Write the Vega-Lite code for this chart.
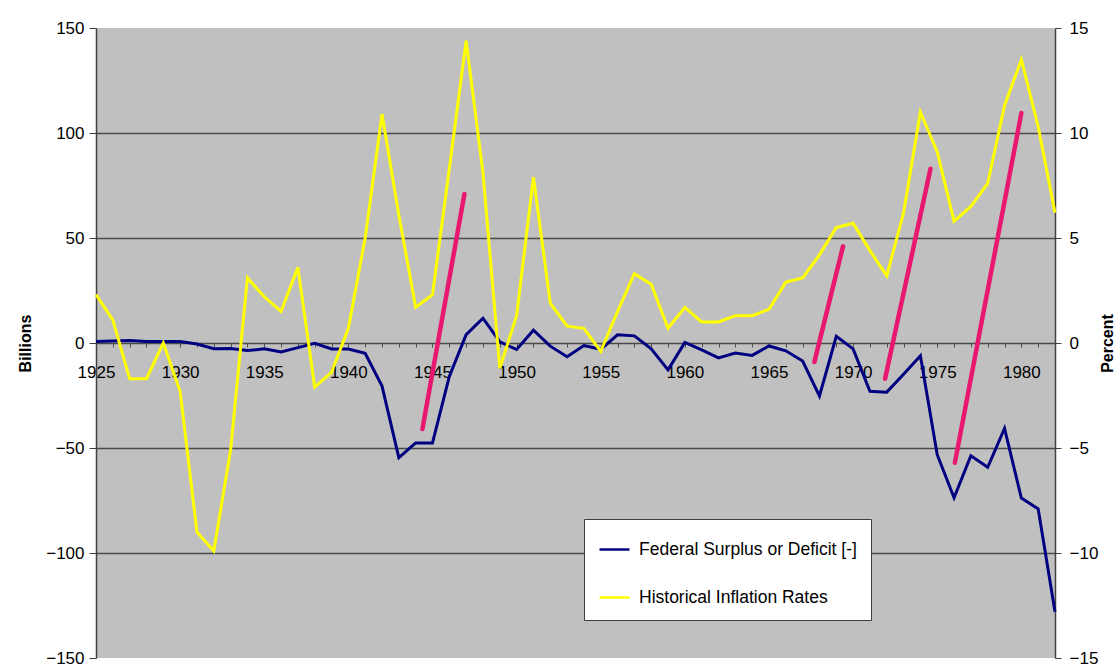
{
  "$schema": "https://vega.github.io/schema/vega-lite/v6.json",
  "width": 959,
  "height": 630,
  "autosize": {"type": "none"},
  "padding": {"left": 96, "top": 28, "right": 65, "bottom": 10},
  "background": "white",
  "config": {
    "view": {"fill": "#C0C0C0", "stroke": null},
    "font": "Liberation Sans",
    "axis": {"labelFont": "Liberation Sans", "labelFontSize": 17, "labelColor": "black", "titleFont": "Liberation Sans", "titleColor": "black"}
  },
  "datasets": {
    "series": [
      {"year": 1925, "deficit": 0.7, "inflation": 2.3},
      {"year": 1926, "deficit": 0.9, "inflation": 1.1},
      {"year": 1927, "deficit": 1.2, "inflation": -1.7},
      {"year": 1928, "deficit": 0.7, "inflation": -1.7},
      {"year": 1929, "deficit": 0.7, "inflation": 0.0},
      {"year": 1930, "deficit": 0.7, "inflation": -2.3},
      {"year": 1931, "deficit": -0.5, "inflation": -9.0},
      {"year": 1932, "deficit": -2.7, "inflation": -9.9},
      {"year": 1933, "deficit": -2.6, "inflation": -5.1},
      {"year": 1934, "deficit": -3.6, "inflation": 3.1},
      {"year": 1935, "deficit": -2.8, "inflation": 2.2},
      {"year": 1936, "deficit": -4.3, "inflation": 1.5},
      {"year": 1937, "deficit": -2.2, "inflation": 3.6},
      {"year": 1938, "deficit": -0.1, "inflation": -2.1},
      {"year": 1939, "deficit": -2.8, "inflation": -1.4},
      {"year": 1940, "deficit": -2.9, "inflation": 0.7},
      {"year": 1941, "deficit": -4.9, "inflation": 5.0},
      {"year": 1942, "deficit": -20.5, "inflation": 10.9},
      {"year": 1943, "deficit": -54.6, "inflation": 6.1},
      {"year": 1944, "deficit": -47.6, "inflation": 1.7},
      {"year": 1945, "deficit": -47.6, "inflation": 2.3},
      {"year": 1946, "deficit": -15.9, "inflation": 8.3},
      {"year": 1947, "deficit": 4.0, "inflation": 14.4},
      {"year": 1948, "deficit": 11.8, "inflation": 8.1},
      {"year": 1949, "deficit": 0.6, "inflation": -1.2},
      {"year": 1950, "deficit": -3.1, "inflation": 1.3},
      {"year": 1951, "deficit": 6.1, "inflation": 7.9},
      {"year": 1952, "deficit": -1.5, "inflation": 1.9},
      {"year": 1953, "deficit": -6.5, "inflation": 0.8},
      {"year": 1954, "deficit": -1.2, "inflation": 0.7},
      {"year": 1955, "deficit": -3.0, "inflation": -0.4},
      {"year": 1956, "deficit": 3.9, "inflation": 1.5},
      {"year": 1957, "deficit": 3.4, "inflation": 3.3},
      {"year": 1958, "deficit": -2.8, "inflation": 2.8},
      {"year": 1959, "deficit": -12.8, "inflation": 0.7},
      {"year": 1960, "deficit": 0.3, "inflation": 1.7},
      {"year": 1961, "deficit": -3.3, "inflation": 1.0},
      {"year": 1962, "deficit": -7.1, "inflation": 1.0},
      {"year": 1963, "deficit": -4.8, "inflation": 1.3},
      {"year": 1964, "deficit": -5.9, "inflation": 1.3},
      {"year": 1965, "deficit": -1.4, "inflation": 1.6},
      {"year": 1966, "deficit": -3.7, "inflation": 2.9},
      {"year": 1967, "deficit": -8.6, "inflation": 3.1},
      {"year": 1968, "deficit": -25.2, "inflation": 4.2},
      {"year": 1969, "deficit": 3.2, "inflation": 5.5},
      {"year": 1970, "deficit": -2.8, "inflation": 5.7},
      {"year": 1971, "deficit": -23.0, "inflation": 4.4},
      {"year": 1972, "deficit": -23.4, "inflation": 3.2},
      {"year": 1973, "deficit": -14.9, "inflation": 6.2},
      {"year": 1974, "deficit": -6.1, "inflation": 11.0},
      {"year": 1975, "deficit": -53.2, "inflation": 9.1},
      {"year": 1976, "deficit": -73.7, "inflation": 5.8},
      {"year": 1977, "deficit": -53.7, "inflation": 6.5},
      {"year": 1978, "deficit": -59.2, "inflation": 7.6},
      {"year": 1979, "deficit": -40.7, "inflation": 11.3},
      {"year": 1980, "deficit": -73.8, "inflation": 13.5},
      {"year": 1981, "deficit": -79.0, "inflation": 10.3},
      {"year": 1982, "deficit": -128.0, "inflation": 6.2}
    ],
    "annotations": [
      {"seg": "a", "year": 1944.4, "billions": -41},
      {"seg": "a", "year": 1946.9, "billions": 71},
      {"seg": "b", "year": 1967.7, "billions": -9},
      {"seg": "b", "year": 1969.4, "billions": 46},
      {"seg": "c", "year": 1971.9, "billions": -17},
      {"seg": "c", "year": 1974.6, "billions": 83},
      {"seg": "d", "year": 1976.05, "billions": -57},
      {"seg": "d", "year": 1980.0, "billions": 109.5}
    ]
  },
  "layer": [
    {
      "data": {"name": "series"},
      "mark": {"type": "line", "strokeWidth": 3},
      "encoding": {
        "x": {
          "field": "year", "type": "quantitative",
          "scale": {"domain": [1925, 1982], "nice": false, "zero": false},
          "axis": {
            "orient": "bottom", "offset": -315, "title": null, "format": "d",
            "values": [1925, 1930, 1935, 1940, 1945, 1950, 1955, 1960, 1965, 1970, 1975, 1980],
            "labelFlush": false, "labelOverlap": false, "labelBound": false,
            "domain": false, "grid": false, "ticks": true, "tickSize": 4, "tickColor": "#505050",
            "labelPadding": 17
          }
        },
        "y": {
          "field": "deficit", "type": "quantitative",
          "scale": {"domain": [-150, 150], "nice": false},
          "axis": {
            "orient": "left", "title": "Billions", "titleFontWeight": "bold", "titleFontSize": 16,
            "titlePadding": 12,
            "values": [-150, -100, -50, 0, 50, 100, 150],
            "grid": true,
            "gridColor": {"condition": {"test": "abs(datum.value) == 150", "value": "transparent"}, "value": "#4a4a4a"},
            "gridWidth": 1.5,
            "domain": true, "domainColor": "#404040", "domainWidth": 1.5,
            "tickColor": "#404040", "tickSize": 7, "labelPadding": 5
          }
        },
        "color": {
          "datum": "Federal Surplus or Deficit [-]", "type": "nominal",
          "scale": {"domain": ["Federal Surplus or Deficit [-]", "Historical Inflation Rates"], "range": ["#000080", "#FFFF00"]},
          "legend": {
            "orient": "none", "legendX": 488, "legendY": 491, "title": null,
            "fillColor": "white", "strokeColor": "#404040", "padding": 14, "rowPadding": 23,
            "labelFontSize": 17.5, "labelColor": "black", "labelFont": "Liberation Sans", "labelOffset": 8, "labelLimit": 400,
            "symbolType": "stroke", "symbolSize": 900, "symbolStrokeWidth": 2.5
          }
        }
      }
    },
    {
      "data": {"name": "series"},
      "mark": {"type": "line", "strokeWidth": 3},
      "encoding": {
        "x": {
          "field": "year", "type": "quantitative",
          "axis": {
            "orient": "bottom", "offset": -315, "title": null,
            "values": [1925,1926,1927,1928,1929,1930,1931,1932,1933,1934,1935,1936,1937,1938,1939,1940,1941,1942,1943,1944,1945,1946,1947,1948,1949,1950,1951,1952,1953,1954,1955,1956,1957,1958,1959,1960,1961,1962,1963,1964,1965,1966,1967,1968,1969,1970,1971,1972,1973,1974,1975,1976,1977,1978,1979,1980,1981,1982],
            "labels": false, "domain": false, "grid": false, "ticks": true, "tickSize": 4, "tickColor": "#505050"
          }
        },
        "y": {
          "field": "inflation", "type": "quantitative",
          "scale": {"domain": [-15, 15], "nice": false},
          "axis": {
            "orient": "right", "title": "Percent", "titleFontWeight": "bold", "titleFontSize": 16,
            "titleAngle": 270, "titlePadding": 18,
            "values": [-15, -10, -5, 0, 5, 10, 15],
            "grid": false,
            "domain": true, "domainColor": "#404040", "domainWidth": 1.5,
            "tickColor": "#404040", "tickSize": 6, "labelPadding": 8
          }
        },
        "color": {"datum": "Historical Inflation Rates", "type": "nominal"}
      }
    },
    {
      "data": {"name": "annotations"},
      "mark": {"type": "line", "color": "#E8176F", "strokeWidth": 4.5, "strokeCap": "round"},
      "encoding": {
        "x": {"field": "year", "type": "quantitative", "axis": null},
        "y": {"field": "billions", "type": "quantitative", "scale": {"domain": [-150, 150], "nice": false}, "axis": null},
        "detail": {"field": "seg"}
      }
    }
  ],
  "resolve": {"scale": {"y": "independent"}, "axis": {"x": "independent"}}
}
